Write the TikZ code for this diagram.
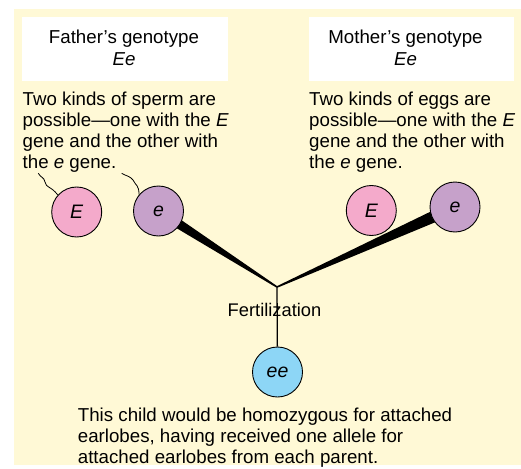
\documentclass[tikz,border=0pt]{standalone}
\usepackage{fontspec}
\setmainfont{Liberation Sans}
\usetikzlibrary{calc}
\definecolor{bgyellow}{HTML}{FFF9D6}
\definecolor{pinkE}{HTML}{F4AACB}
\definecolor{purpE}{HTML}{C6A1CA}
\definecolor{blueE}{HTML}{8DD6F6}
\tikzset{
  txt/.style={inner sep=0pt, align=left, anchor=base west, font=\fontsize{18.7}{21}\selectfont},
  ttl/.style={inner sep=0pt, align=center, font=\fontsize{18.7}{22.2}\selectfont},
  cell/.style={circle, draw, line width=0.9pt, minimum size=50pt, inner sep=0pt, font=\fontsize{19.5}{20}\selectfont\itshape},
  squig/.style={line width=0.8pt},
  wedge/.style={fill=black},
}
\begin{document}
\begin{tikzpicture}[x=1pt,y=-1pt]
\useasboundingbox (0,0) rectangle (521,468);
\fill[white] (0,0) rectangle (521,468);
\fill[bgyellow] (14,9) rectangle (521,465);
% title boxes
\fill[white] (22,17) rectangle (228,81);
\fill[white] (309,17) rectangle (514,81);
\node[ttl, anchor=base] (ftitle) at (124,65.7) {Father{\char"27}s genotype\\\textit{Ee}};
\node[ttl, anchor=base] (mtitle) at (405.5,65.7) {Mother{\char"27}s genotype\\\textit{Ee}};
% descriptions
\node[txt] (ftext) at (22.5,168.5) {Two kinds of sperm are\\possible---one with the \textit{E}\\gene and the other with\\the \textit{e} gene.};
\node[txt] (mtext) at (309,168.5) {Two kinds of eggs are\\possible---one with the \textit{E}\\gene and the other with\\the \textit{e} gene.};
% junction and wedges
\coordinate (J) at (277,287);
\coordinate (feC) at (158.5,211);
\coordinate (meC) at (455,207);
\fill[wedge] ($(feC)!5.5pt!90:(J)$) -- ($(J)!0.8pt!-90:(feC)$) -- ($(J)!0.8pt!90:(feC)$) -- ($(feC)!5.5pt!-90:(J)$) -- cycle;
\fill[wedge] ($(meC)!6.5pt!90:(J)$) -- ($(J)!0.8pt!-90:(meC)$) -- ($(J)!0.8pt!90:(meC)$) -- ($(meC)!6.5pt!-90:(J)$) -- cycle;
% cells
\node[cell, fill=pinkE] (fE) at (76.7,212) {E};
\node[cell, fill=purpE] (fe) at (feC) {e};
\node[cell, fill=pinkE] (mE) at (371.3,210.5) {E};
\node[cell, fill=purpE] (me) at (meC) {e};
\node[cell, fill=blueE] (ee) at (277.5,372) {ee};
% fertilization line
\draw[line width=1.3pt] (J) -- (ee);
\node[inner sep=0pt, anchor=base, font=\fontsize{18.3}{20}\selectfont] (fert) at (274.5,316) {Fertilization};
% squiggles
\coordinate (s1) at (38.3,173.3);
\coordinate (s2) at (121.7,173.3);
\draw[squig] (s1) .. controls (41,178) and (44,177) .. (45,182) .. controls (46,188) and (51,186) .. (fE.138);
\draw[squig] (s2) .. controls (126,176) and (130,176) .. (133,180) .. controls (136,186) and (139,185) .. (fe.140);
% bottom text
\node[txt] (ctext) at (77.7,463.3) {This child would be homozygous for attached\\earlobes, having received one allele for\\attached earlobes from each parent.};
\end{tikzpicture}
\end{document}
